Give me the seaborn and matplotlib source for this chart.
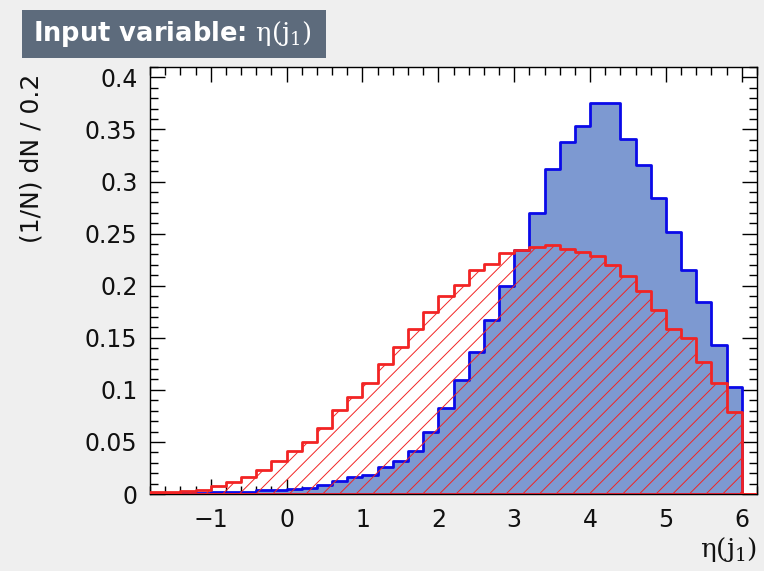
import numpy as np
import pandas as pd
import matplotlib
matplotlib.use("Agg")
import matplotlib.pyplot as plt
from matplotlib.patches import Rectangle
from matplotlib.ticker import MultipleLocator, FixedLocator
import seaborn as sns

# ---- data ----
bin_edges = [round(v, 2) for v in np.arange(-1.8, 6.2001, 0.2)]
signal = [0.0, 0.0, 0.0005, 0.001, 0.0015, 0.002, 0.002, 0.004, 0.004,
          0.0045, 0.006, 0.009, 0.0125, 0.016,
          0.018, 0.026, 0.032, 0.041, 0.060,
          0.083, 0.109, 0.136, 0.167, 0.200,
          0.234, 0.270, 0.3125, 0.338, 0.353,
          0.375, 0.375, 0.341, 0.316, 0.284,
          0.252, 0.215, 0.184, 0.143, 0.103, 0.0]
background = [0.002, 0.002, 0.003, 0.004, 0.008, 0.012, 0.016, 0.023, 0.032,
              0.041, 0.050, 0.063, 0.081, 0.093,
              0.107, 0.125, 0.141, 0.158, 0.175,
              0.190, 0.201, 0.215, 0.221, 0.231,
              0.234, 0.237, 0.239, 0.235, 0.232,
              0.229, 0.2195, 0.209, 0.195, 0.177,
              0.158, 0.150, 0.127, 0.1065, 0.079, 0.0]
x_ticks = [-1, 0, 1, 2, 3, 4, 5, 6]
y_ticks = [0, 0.05, 0.1, 0.15, 0.2, 0.25, 0.3, 0.35, 0.4]
y_ticklabels = ["0", "0.05", "0.1", "0.15", "0.2", "0.25", "0.3", "0.35", "0.4"]

edges_arr = np.array(bin_edges)
centers = (edges_arr[:-1] + edges_arr[1:]) / 2
df = pd.DataFrame({"eta": centers, "sig": signal, "bkg": background})

sns.set_style("ticks")
plt.rcParams["font.family"] = ["DejaVu Sans"]
plt.rcParams["mathtext.fontset"] = "dejavuserif"
plt.rcParams["hatch.linewidth"] = 0.7

BG = "#efefef"
fig = plt.figure(figsize=(7.64, 5.71), dpi=100, facecolor=BG)
ax = fig.add_axes([150 / 764, 1 - 494 / 571, 607 / 764, 427 / 571])
ax.set_facecolor("white")

sns.histplot(data=df, x="eta", weights="sig", bins=bin_edges, element="step",
             fill=True, stat="count", color="#0a0ae8", facecolor="#7d99d1",
             edgecolor="#0a0ae8", linewidth=2.0, alpha=1.0, ax=ax, zorder=2)
sns.histplot(data=df, x="eta", weights="bkg", bins=bin_edges, element="step",
             fill=True, stat="count", color="#f22424", facecolor="none",
             edgecolor="#f22424", hatch="//", linewidth=2.0, alpha=1.0,
             ax=ax, zorder=3)

ax.set_xlim(-1.8, 6.2)
ax.set_ylim(0, 0.41)

ax.xaxis.set_major_locator(FixedLocator(x_ticks))
ax.xaxis.set_minor_locator(MultipleLocator(0.2))
ax.yaxis.set_major_locator(FixedLocator(y_ticks))
ax.set_yticklabels(y_ticklabels)
ax.yaxis.set_minor_locator(MultipleLocator(0.01))
ax.set_xticklabels([("\u2212" + str(-t)) if t < 0 else str(t) for t in x_ticks])

ax.tick_params(which="both", direction="in", top=True, right=True,
               colors="black", width=1.0, labelcolor="#111111")
ax.tick_params(which="major", length=11, labelsize=17)
ax.tick_params(axis="x", which="major", pad=10)
ax.tick_params(axis="y", which="major", pad=9)
ax.tick_params(which="minor", length=6)
for s in ax.spines.values():
    s.set_visible(True)
    s.set_linewidth(1.0)
    s.set_color("black")

ax.set_ylabel("(1/N) dN / 0.2", fontsize=18, loc="top", color="#111111")
ax.yaxis.set_label_coords(-0.176, 0.985)
ax.set_xlabel(r"$\mathrm{\eta(j_{1})}$", fontsize=19, loc="right", color="#111111")
ax.xaxis.set_label_coords(1.0, -0.095)

fig.patches.append(Rectangle((22 / 764, 1 - 58 / 571), 304 / 764, 48 / 571,
                             transform=fig.transFigure, facecolor="#5d6b7c",
                             edgecolor="none", zorder=0))
fig.text(33 / 764, 1 - 34 / 571, r"Input variable: $\mathrm{\eta(j_{1})}$",
         color="white", fontsize=18.5, fontweight="bold", ha="left", va="center")

fig.savefig("out.png", dpi=100, facecolor=BG)
